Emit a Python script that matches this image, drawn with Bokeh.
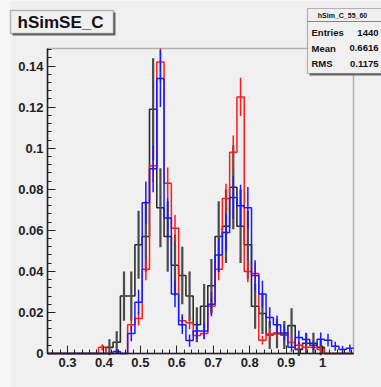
from bokeh.plotting import figure
from bokeh.models import Range1d, FixedTicker, Label, BoxAnnotation
from bokeh.embed import file_html
from bokeh.resources import INLINE

# ---- data -----------------------------------------------------------
bin_lo = 0.245
bin_w = 0.02
n_bins = 42
x_lo, x_hi = 0.245, 1.085
y_lo, y_hi = 0.0, 0.1486

black_vals = [0, 0, 0, 0, 0, 0, 0, 0, 0.003, 0.0055, 0.028, 0.028, 0.053, 0.057,
              0.119, 0.071, 0.057, 0.043, 0.038, 0.028, 0.014, 0.023, 0.033, 0.057,
              0.062, 0.081, 0.062, 0.053, 0.023, 0.0195, 0.009, 0.0097, 0.009, 0.0136,
              0.002, 0.005, 0.005, 0.003, 0, 0, 0, 0]
black_errs = [0, 0, 0, 0, 0, 0, 0, 0, 0.0039, 0.0053, 0.012, 0.012, 0.0166, 0.0172,
              0.0248, 0.0192, 0.0172, 0.0149, 0.014, 0.012, 0.0085, 0.0109, 0.0131, 0.0172,
              0.0179, 0.0205, 0.0179, 0.0166, 0.0109, 0.010, 0.0068, 0.0071, 0.0068, 0.0084,
              0.0032, 0.0051, 0.0051, 0.0039, 0, 0, 0, 0]

red_vals = [0, 0, 0, 0, 0, 0, 0, 0.003, 0, 0, 0, 0.014, 0.017, 0.041,
            0.0915, 0.142, 0.083, 0.061, 0.016, 0.015, 0.0088, 0.0097, 0.023, 0.041,
            0.0755, 0.098, 0.125, 0.040, 0.039, 0.0065, 0.0095, 0.010, 0.0097, 0.0054,
            0.004, 0.003, 0.003, 0.002, 0, 0, 0, 0]
red_errs = [0, 0, 0, 0, 0, 0, 0, 0.0015, 0, 0, 0, 0.0031, 0.0034, 0.0053,
            0.008, 0.0099, 0.0076, 0.0065, 0.0033, 0.0032, 0.0025, 0.0026, 0.004, 0.0053,
            0.0072, 0.0082, 0.0093, 0.0053, 0.0052, 0.0021, 0.0026, 0.0026, 0.0026, 0.0019,
            0.0017, 0.0015, 0.0015, 0.0012, 0, 0, 0, 0]

blue_vals = [0, 0, 0, 0, 0, 0, 0, 0, 0, 0.001, 0, 0.0097, 0.025, 0.0735,
             0.09, 0.134, 0.066, 0.029, 0.014, 0.0063, 0.011, 0.011, 0.024, 0.048,
             0.059, 0.076, 0.072, 0.071, 0.038, 0.029, 0.0175, 0.014, 0.010, 0.003,
             0.0078, 0.0068, 0.004, 0.007, 0.0065, 0.0035, 0.002, 0.0025]
blue_errs = [0, 0, 0, 0, 0, 0, 0, 0, 0, 0.0012, 0, 0.0037, 0.006, 0.0103,
             0.0114, 0.0139, 0.0098, 0.0065, 0.0045, 0.003, 0.004, 0.004, 0.0059, 0.0083,
             0.0092, 0.0105, 0.0102, 0.0101, 0.0074, 0.0065, 0.005, 0.0045, 0.0038, 0.0021,
             0.0034, 0.0031, 0.0024, 0.0032, 0.0031, 0.0022, 0.0017, 0.0019]

x_ticks = [0.3, 0.4, 0.5, 0.6, 0.7, 0.8, 0.9, 1.0]
x_tick_labels = ["0.3", "0.4", "0.5", "0.6", "0.7", "0.8", "0.9", "1"]
y_ticks = [0, 0.02, 0.04, 0.06, 0.08, 0.1, 0.12, 0.14]
y_tick_labels = ["0", "0.02", "0.04", "0.06", "0.08", "0.1", "0.12", "0.14"]
x_minor_ticks = [round(0.26 + 0.02 * i, 4) for i in range(42)]
y_minor_ticks = [round(0.004 * i, 4) for i in range(38)]

hist_title = "hSimSE_C"
stats_name = "hSim_C_55_60"
stats_rows = [("Entries", "1440"), ("Mean", "0.6616"), ("RMS", "0.1175")]

# ---- layout constants (pixels) ----------------------------------------
W, H = 381, 387
FR_L, FR_R, FR_T, FR_B = 47, 353, 48, 353      # plot frame box on the canvas
BG = "#f0f0f0"
INK = "#222222"
FONT = "Liberation Sans"

sx = (FR_R - FR_L) / (x_hi - x_lo)
sy = (FR_B - FR_T) / (y_hi - y_lo)
x_range = Range1d(x_lo - FR_L / sx, x_hi + (W - FR_R) / sx)
y_range = Range1d(y_lo - (H - FR_B) / sy, y_hi + FR_T / sy)

edges = [bin_lo + bin_w * i for i in range(n_bins + 1)]
centers = [bin_lo + bin_w * (i + 0.5) for i in range(n_bins)]

p = figure(width=W, height=H, output_backend="svg", toolbar_location=None,
           x_range=x_range, y_range=y_range, min_border=0)
p.background_fill_color = BG
p.border_fill_color = BG
p.outline_line_color = None
p.xgrid.visible = False
p.ygrid.visible = False

# light strip at the left edge of the canvas
p.add_layout(BoxAnnotation(left=0, right=10, bottom=0, top=H,
                           left_units="screen", right_units="screen",
                           top_units="screen", bottom_units="screen",
                           fill_color="#f7f7f7", fill_alpha=1.0, line_color=None,
                           level="underlay"))

for ax, ticks, labels, minor, loc, bounds in (
        (p.xaxis[0], x_ticks, x_tick_labels, x_minor_ticks, y_lo, (x_lo, x_hi)),
        (p.yaxis[0], y_ticks, y_tick_labels, y_minor_ticks, x_lo, (y_lo, y_hi))):
    ax.ticker = FixedTicker(ticks=ticks, minor_ticks=minor)
    ax.major_label_overrides = {t: l for t, l in zip(ticks, labels)}
    ax.fixed_location = loc
    ax.bounds = bounds
    ax.major_tick_in = 8
    ax.major_tick_out = 0
    ax.minor_tick_in = 4
    ax.minor_tick_out = 0
    ax.axis_line_color = INK
    ax.axis_line_width = 1.5
    ax.major_tick_line_color = INK
    ax.minor_tick_line_color = INK
    ax.major_label_text_font = FONT
    ax.major_label_text_font_style = "bold"
    ax.major_label_text_font_size = "13px"
    ax.major_label_text_color = INK
    ax.major_label_standoff = 4


def draw_hist(vals, errs, color, lw, ecolor, elw):
    p.step(x=edges, y=vals + [vals[-1]], mode="after", line_color=color,
           line_width=lw)
    xs = [c for c, e in zip(centers, errs) if e > 0]
    y0 = [v - e for v, e in zip(vals, errs) if e > 0]
    y1 = [min(v + e, y_hi) for v, e in zip(vals, errs) if e > 0]
    p.segment(x0=xs, y0=y0, x1=xs, y1=y1, line_color=ecolor, line_width=elw)


draw_hist(black_vals, black_errs, "#2b2b2b", 1.6, "#4a4a4a", 2.2)
draw_hist(red_vals, red_errs, "#ff1a1a", 1.5, "#ff1a1a", 1.5)
draw_hist(blue_vals, blue_errs, "#1a1aff", 1.5, "#1a1aff", 1.5)

# frame outline
p.add_layout(BoxAnnotation(left=x_lo, right=x_hi, bottom=y_lo, top=y_hi,
                           fill_alpha=0.0, line_color=INK, line_width=1.5))


def sbox(l, r, t, b, fill, line, lw=1.2):
    # pixel box given in canvas coords (top-left origin)
    p.add_layout(BoxAnnotation(left=l, right=r, top=H - t, bottom=H - b,
                               left_units="screen", right_units="screen",
                               top_units="screen", bottom_units="screen",
                               fill_color=fill, fill_alpha=1.0, line_color=line,
                               line_width=lw))


def slabel(x, y, text, size, bold=True, align="left"):
    p.add_layout(Label(x=x, y=H - y, x_units="screen", y_units="screen",
                       text=text, text_font=FONT,
                       text_font_style="bold" if bold else "normal",
                       text_font_size=size, text_align=align,
                       text_baseline="middle", text_color="#111111"))


# ---- title box ------------------------------------------------------
sbox(12, 115, 12, 35, "#666666", None)
sbox(10, 113, 10, 33, BG, INK, 1.5)
slabel(17, 21.5, hist_title, "17px")

# ---- stats box ------------------------------------------------------
sbox(309, 383, 10, 75, "#666666", None)
sbox(307, 384, 8, 73, BG, INK, 1.2)
p.add_layout(BoxAnnotation(left=307, right=384, top=H - 21, bottom=H - 21,
                           left_units="screen", right_units="screen",
                           top_units="screen", bottom_units="screen",
                           fill_alpha=0.0, line_color=INK, line_width=1.0))
slabel(342, 14.5, stats_name, "7px", bold=True, align="center")
for i, (k, v) in enumerate(stats_rows):
    yy = 32 + 15.5 * i
    slabel(311, yy, k, "9.5px")
    slabel(378, yy, v, "9.5px", align="right")

open("out.html", "w").write(file_html(p, INLINE))
